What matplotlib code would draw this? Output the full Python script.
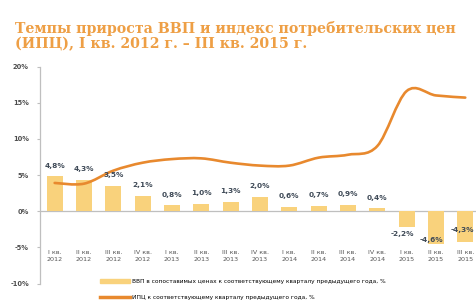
import matplotlib.pyplot as plt
from matplotlib.path import Path
from matplotlib.patches import PathPatch, Patch
from matplotlib.lines import Line2D

quarters = ['I кв.\n2012', 'II кв.\n2012', 'III кв.\n2012', 'IV кв.\n2012',
            'I кв.\n2013', 'II кв.\n2013', 'III кв.\n2013', 'IV кв.\n2013',
            'I кв.\n2014', 'II кв.\n2014', 'III кв.\n2014', 'IV кв.\n2014',
            'I кв.\n2015', 'II кв.\n2015', 'III кв.\n2015']
gdp = [4.8, 4.3, 3.5, 2.1, 0.8, 1.0, 1.3, 2.0, 0.6, 0.7, 0.9, 0.4, -2.2, -4.6, -4.3]
cpi = [3.9, 3.8, 5.6, 6.7, 7.2, 7.3, 6.7, 6.3, 6.3, 7.4, 7.8, 9.0, 16.6, 16.0, 15.7]
yticks = [-10, -5, 0, 5, 10, 15, 20]

title = ('Темпы прироста ВВП и индекс потребительских цен\n'
         '(ИПЦ), I кв. 2012 г. – III кв. 2015 г.')
gdp_label = 'ВВП в сопоставимых ценах к соответствующему кварталу предыдущего года, %'
cpi_label = 'ИПЦ к соответствующему кварталу предыдущего года, %'

bar_color = '#F9D27C'
line_color = '#E8892E'
grey = '#BFBFBF'
label_color = '#3F4A57'

# hand placed offsets (points) for the negative labels, as in the source
neg_offsets = {12: (-3, -5), 13: (-3, 3.5), 14: (-2, 9)}

fig = plt.figure(figsize=(4.77, 3.02), dpi=100)
ax = fig.add_axes([40 / 477, 1 - 283.5 / 302, 1 - 40 / 477, 217 / 302])

x = list(range(len(quarters)))
ax.bar(x, gdp, width=0.55, color=bar_color, zorder=2)

# smoothed line like excel (catmull-rom -> cubic bezier)
verts = [(x[0], cpi[0])]
codes = [Path.MOVETO]
n = len(cpi)
for i in range(n - 1):
    p0 = (x[max(i - 1, 0)], cpi[max(i - 1, 0)])
    p1 = (x[i], cpi[i])
    p2 = (x[i + 1], cpi[i + 1])
    p3 = (x[min(i + 2, n - 1)], cpi[min(i + 2, n - 1)])
    c1 = (p1[0] + (p2[0] - p0[0]) / 6, p1[1] + (p2[1] - p0[1]) / 6)
    c2 = (p2[0] - (p3[0] - p1[0]) / 6, p2[1] - (p3[1] - p1[1]) / 6)
    verts += [c1, c2, p2]
    codes += [Path.CURVE4] * 3
ax.add_patch(PathPatch(Path(verts, codes), fill=False, edgecolor=line_color,
                       lw=1.9, zorder=3, capstyle='round'))

for xi, v in zip(x, gdp):
    txt = f'{v:.1f}%'.replace('.', ',')
    if v >= 0:
        ax.annotate(txt, (xi, v), xytext=(0, 5.5), textcoords='offset points',
                    ha='center', va='bottom', fontsize=5.3, color=label_color,
                    fontweight='bold', zorder=4)
    else:
        ax.annotate(txt, (xi, v), xytext=neg_offsets.get(xi, (0, -5)),
                    textcoords='offset points', ha='center', va='center',
                    fontsize=5.3, color=label_color, fontweight='bold', zorder=4)

ax.axhline(0, color=grey, lw=0.9, zorder=1)
ax.set_xlim(-0.5, 14.4)
ax.set_ylim(-10, 20)
ax.set_yticks(yticks)
ax.set_yticklabels([f'{t}%' for t in yticks], fontsize=4.8, color='#4D4D4D',
                   fontweight='bold')
ax.set_xticks(x)
ax.set_xticklabels(quarters, fontsize=4.6, color='#555555', linespacing=1.55)
ax.tick_params(axis='x', length=0, pad=-24)
ax.tick_params(axis='y', length=2, color=grey, pad=6)
for s in ['top', 'right', 'bottom']:
    ax.spines[s].set_visible(False)
ax.spines['left'].set_color(grey)
ax.spines['left'].set_linewidth(0.9)

fig.text(15 / 477, 1 - 21 / 302, title, fontsize=10.2, family='DejaVu Serif',
         fontweight='bold', color='#EE9F45', va='top', ha='left',
         linespacing=1.05)

handles = [Patch(color=bar_color), Line2D([], [], color=line_color, lw=2.5)]
fig.legend(handles, [gdp_label, cpi_label], loc='upper left',
           bbox_to_anchor=(100 / 477, 1 - 279 / 302), frameon=False,
           fontsize=4.25, handlelength=5, handleheight=0.6, labelspacing=1.9,
           handletextpad=0.5, borderaxespad=0, borderpad=0)

fig.savefig('out.png', dpi=100)
